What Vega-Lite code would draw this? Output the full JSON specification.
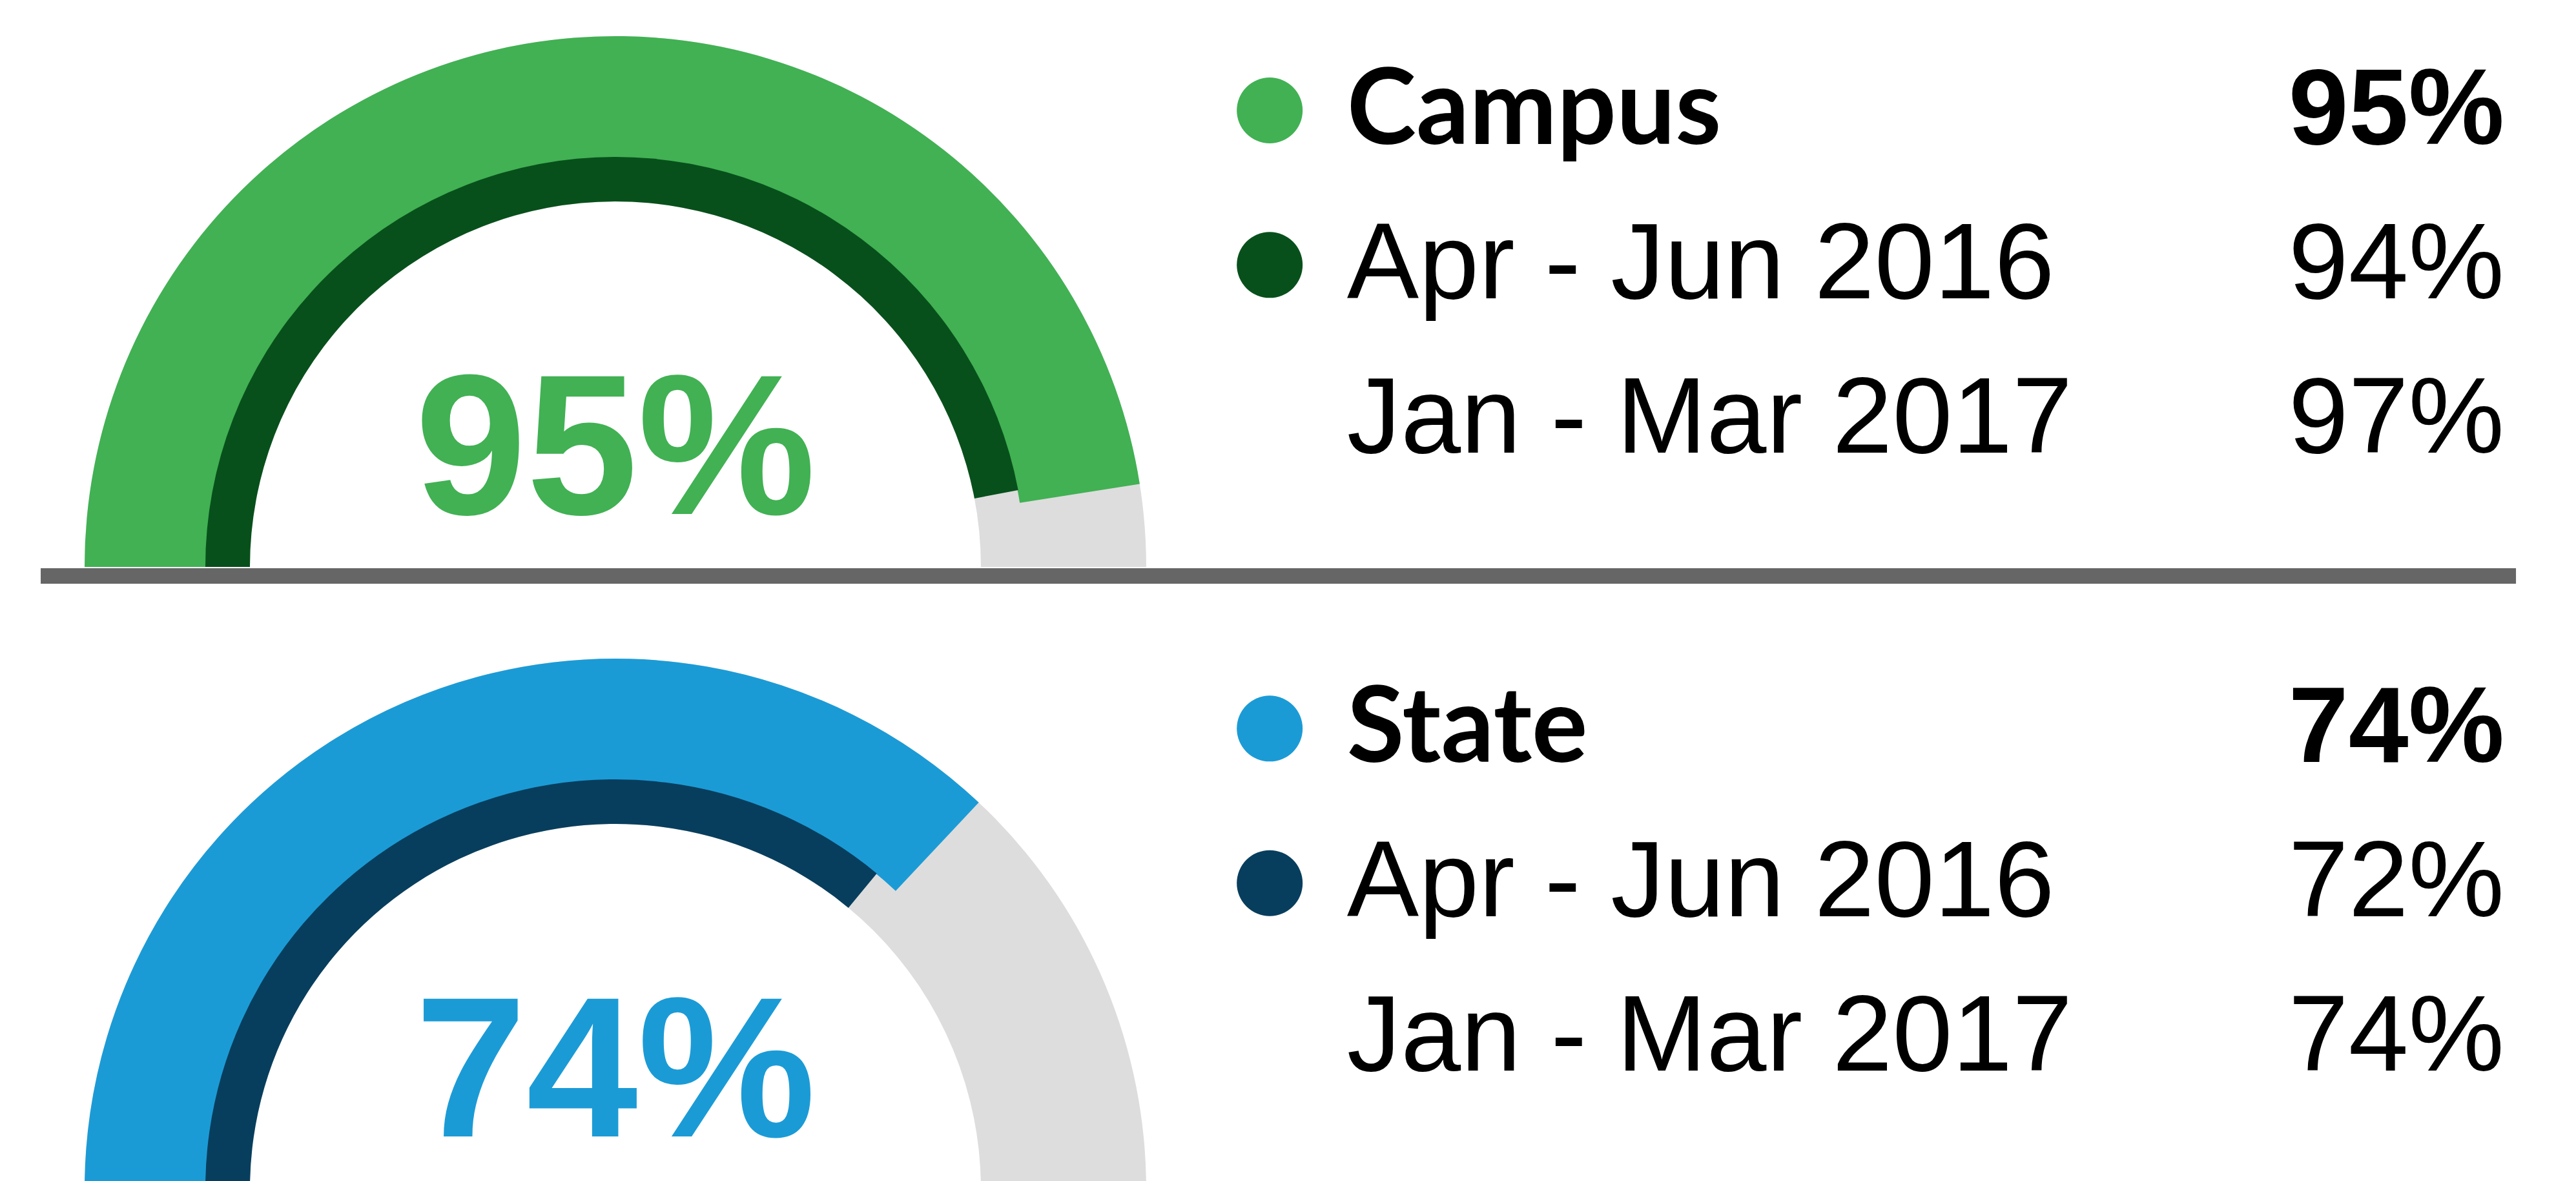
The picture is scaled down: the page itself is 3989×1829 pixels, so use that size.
{
  "$schema": "https://vega.github.io/schema/vega-lite/v6.json",
  "width": 3989,
  "height": 1829,
  "autosize": "none",
  "padding": 0,
  "background": "white",
  "config": {"view": {"stroke": null}},
  "datasets": {
    "rows": [
      {"group": "Campus", "order": 1, "label": "Campus", "period": "current", "series": "Campus current", "share": 0.95},
      {"group": "Campus", "order": 2, "label": "Apr - Jun 2016", "period": "Apr - Jun 2016", "series": "Campus Apr - Jun 2016", "share": 0.94},
      {"group": "Campus", "order": 3, "label": "Jan - Mar 2017", "period": "Jan - Mar 2017", "series": "Campus Jan - Mar 2017", "share": 0.97},
      {"group": "State", "order": 5, "label": "State", "period": "current", "series": "State current", "share": 0.74},
      {"group": "State", "order": 6, "label": "Apr - Jun 2016", "period": "Apr - Jun 2016", "series": "State Apr - Jun 2016", "share": 0.72},
      {"group": "State", "order": 7, "label": "Jan - Mar 2017", "period": "Jan - Mar 2017", "series": "State Jan - Mar 2017", "share": 0.74}
    ]
  },
  "resolve": {"scale": {"y": "independent"}},
  "layer": [
    {
      "data": {"values": [{"after": "Campus"}]},
      "mark": {"type": "rule", "strokeWidth": 24, "color": "#666666"},
      "encoding": {
        "x": {"datum": 1.58, "type": "quantitative", "axis": null, "scale": {"domain": [0, 100], "range": [0, 3989], "zero": false, "nice": false}},
        "x2": {"datum": 97.67},
        "y": {"field": "after", "type": "nominal", "axis": null, "scale": {"type": "point", "padding": 0, "domain": ["Campus", "State"], "range": [892, 1856]}}
      }
    },
    {
      "data": {"name": "rows"},
      "transform": [{"filter": "datum.period === 'current'"}],
      "mark": {"type": "arc", "radius": 822, "radius2": 566, "theta": -1.5707963, "theta2": 1.5707963, "color": "#DDDDDD"},
      "encoding": {
        "x": {"datum": 23.89, "type": "quantitative", "axis": null},
        "y": {"field": "group", "type": "nominal", "axis": null, "scale": {"type": "point", "padding": 0, "domain": ["Campus", "State"], "range": [878, 1842]}}
      }
    },
    {
      "data": {"name": "rows"},
      "transform": [{"filter": "datum.period === 'current'"}],
      "mark": {"type": "arc", "radius": 822, "radius2": 634},
      "encoding": {
        "x": {"datum": 23.89, "type": "quantitative", "axis": null},
        "y": {"field": "group", "type": "nominal", "axis": null, "scale": {"type": "point", "padding": 0, "domain": ["Campus", "State"], "range": [878, 1842]}},
        "theta": {"field": "share", "type": "quantitative", "stack": null, "scale": {"domain": [0, 1], "range": [-1.5707963, 1.5707963], "zero": false, "nice": false}},
        "color": {"field": "series", "type": "nominal", "legend": null,
          "scale": {"domain": ["Campus current", "Campus Apr - Jun 2016", "State current", "State Apr - Jun 2016"],
                    "range": ["#41B153", "#08501B", "#1B9BD6", "#083E5D"]}}
      }
    },
    {
      "data": {"name": "rows"},
      "transform": [{"filter": "datum.period === 'Apr - Jun 2016'"}],
      "mark": {"type": "arc", "radius": 635, "radius2": 566},
      "encoding": {
        "x": {"datum": 23.89, "type": "quantitative", "axis": null},
        "y": {"field": "group", "type": "nominal", "axis": null, "scale": {"type": "point", "padding": 0, "domain": ["Campus", "State"], "range": [878, 1842]}},
        "theta": {"field": "share", "type": "quantitative", "stack": null},
        "color": {"field": "series", "type": "nominal", "legend": null}
      }
    },
    {
      "data": {"name": "rows"},
      "transform": [{"filter": "datum.period === 'current'"}],
      "mark": {"type": "text", "font": "Liberation Sans", "fontWeight": "bold", "fontSize": 310, "align": "center", "baseline": "alphabetic", "dy": -82},
      "encoding": {
        "x": {"datum": 23.89, "type": "quantitative", "axis": null},
        "y": {"field": "group", "type": "nominal", "axis": null, "scale": {"type": "point", "padding": 0, "domain": ["Campus", "State"], "range": [878, 1842]}},
        "text": {"field": "share", "type": "quantitative", "format": ".0%"},
        "color": {"field": "series", "type": "nominal", "legend": null}
      }
    },
    {
      "data": {"name": "rows"},
      "transform": [{"filter": "datum.period === 'current' || datum.period === 'Apr - Jun 2016'"}],
      "mark": {"type": "circle", "size": 10400, "opacity": 1},
      "encoding": {
        "x": {"datum": 49.29, "type": "quantitative", "axis": null},
        "y": {"field": "order", "type": "ordinal", "axis": null, "scale": {"type": "point", "padding": 0, "domain": [1, 2, 3, 4, 5, 6, 7], "range": [171, 1607]}},
        "color": {"field": "series", "type": "nominal", "legend": null}
      }
    },
    {
      "data": {"name": "rows"},
      "transform": [{"filter": "datum.period === 'current'"}],
      "mark": {"type": "text", "font": "Lato", "fontWeight": "bold", "fontSize": 162, "align": "left", "baseline": "alphabetic", "color": "#000000"},
      "encoding": {
        "x": {"datum": 52.29, "type": "quantitative", "axis": null},
        "y": {"field": "order", "type": "ordinal", "axis": null, "scale": {"type": "point", "padding": 0, "domain": [1, 2, 3, 4, 5, 6, 7], "range": [223, 1658]}},
        "text": {"field": "label", "type": "nominal"}
      }
    },
    {
      "data": {"name": "rows"},
      "transform": [{"filter": "datum.period !== 'current'"}],
      "mark": {"type": "text", "font": "Liberation Sans", "fontSize": 167, "align": "left", "baseline": "alphabetic", "color": "#000000"},
      "encoding": {
        "x": {"datum": 52.29, "type": "quantitative", "axis": null},
        "y": {"field": "order", "type": "ordinal", "axis": null, "scale": {"type": "point", "padding": 0, "domain": [1, 2, 3, 4, 5, 6, 7], "range": [223, 1658]}},
        "text": {"field": "label", "type": "nominal"}
      }
    },
    {
      "data": {"name": "rows"},
      "transform": [{"filter": "datum.period === 'current'"}],
      "mark": {"type": "text", "font": "Liberation Sans", "fontWeight": "bold", "fontSize": 167, "align": "right", "baseline": "alphabetic", "color": "#000000"},
      "encoding": {
        "x": {"datum": 97.22, "type": "quantitative", "axis": null},
        "y": {"field": "order", "type": "ordinal", "axis": null, "scale": {"type": "point", "padding": 0, "domain": [1, 2, 3, 4, 5, 6, 7], "range": [223, 1658]}},
        "text": {"field": "share", "type": "quantitative", "format": ".0%"}
      }
    },
    {
      "data": {"name": "rows"},
      "transform": [{"filter": "datum.period !== 'current'"}],
      "mark": {"type": "text", "font": "Liberation Sans", "fontSize": 167, "align": "right", "baseline": "alphabetic", "color": "#000000"},
      "encoding": {
        "x": {"datum": 97.22, "type": "quantitative", "axis": null},
        "y": {"field": "order", "type": "ordinal", "axis": null, "scale": {"type": "point", "padding": 0, "domain": [1, 2, 3, 4, 5, 6, 7], "range": [223, 1658]}},
        "text": {"field": "share", "type": "quantitative", "format": ".0%"}
      }
    }
  ]
}
